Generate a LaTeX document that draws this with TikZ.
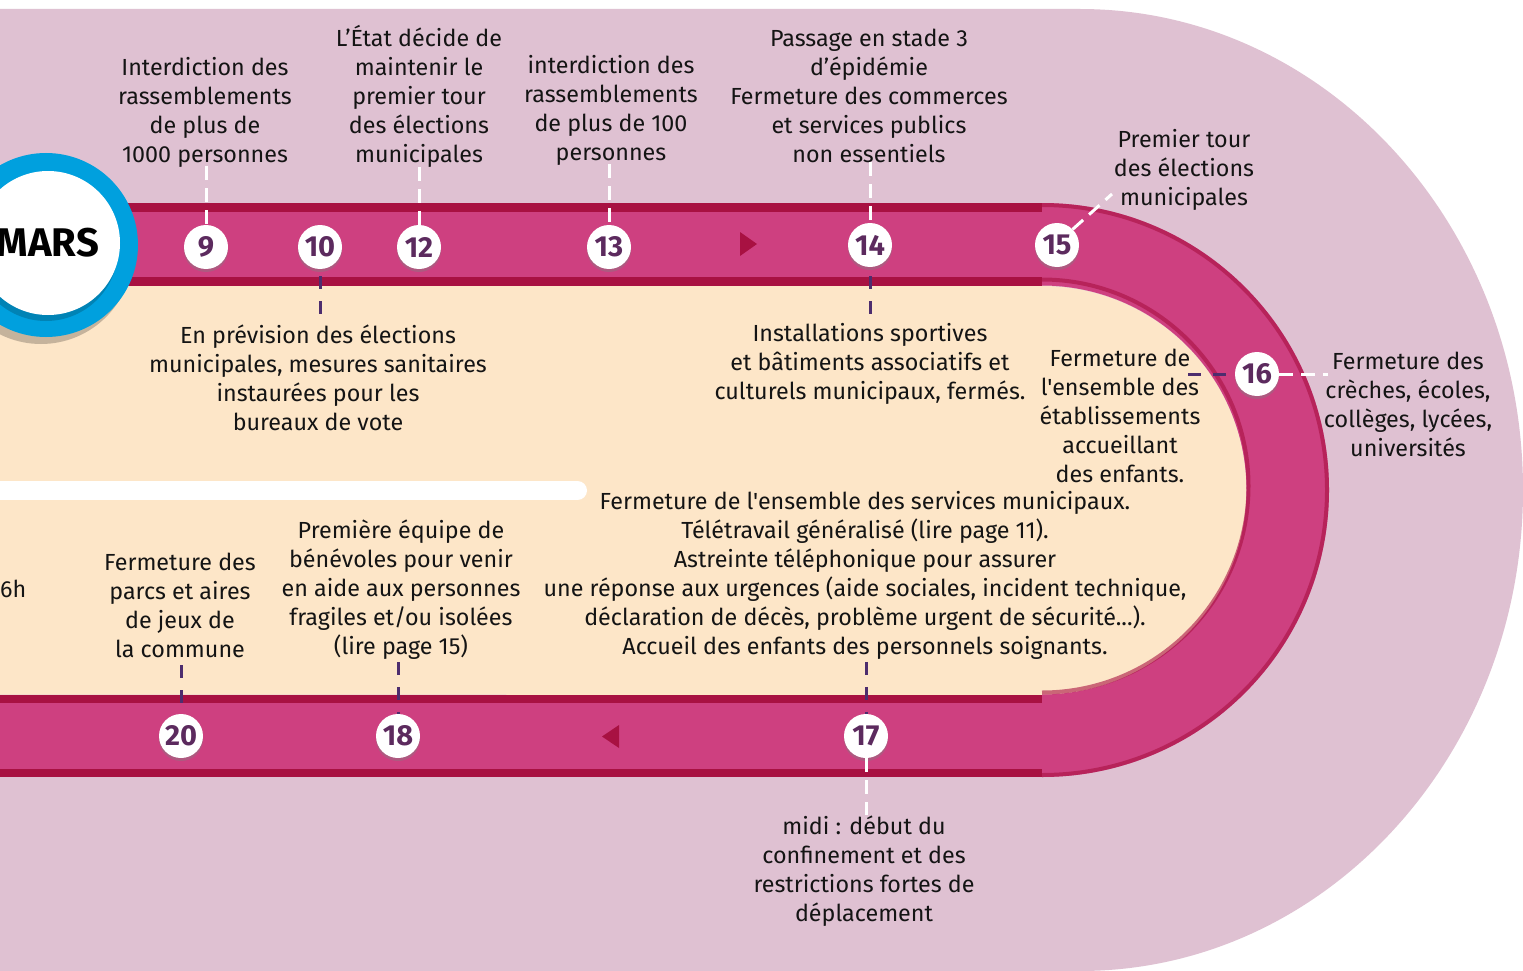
\documentclass[tikz,border=0pt]{standalone}
\usepackage{fontspec}
\setmainfont{Fira Sans}
\newfontfamily\ffira{Fira Sans}
\usetikzlibrary{shadows}
\definecolor{mauve}{HTML}{DFC1D2}
\definecolor{bandc}{HTML}{CE4080}
\definecolor{darkc}{HTML}{A81142}
\definecolor{creamc}{HTML}{FDE6C8}
\definecolor{numc}{HTML}{5C2A5E}
\definecolor{pdc}{HTML}{4D2D6E}
\definecolor{bluec}{HTML}{00A0DE}
\definecolor{txtc}{HTML}{141414}
\begin{document}
\begin{tikzpicture}[x=1pt,y=-1pt,
  txt/.style={align=center, inner sep=0pt, text=txtc, font=\ffira\fontsize{23.3}{29}\selectfont},
  num/.style={circle, fill=white, minimum size=44pt, inner sep=0pt, text=numc,
    font=\fontsize{29}{29}\selectfont\bfseries,
    drop shadow={opacity=0.4, shadow xshift=0pt, shadow yshift=-3pt}},
  wdash/.style={white, line width=3pt, dash pattern=on 14pt off 8pt},
  pdash/.style={pdc, line width=3pt, dash pattern=on 13pt off 12pt}]
\useasboundingbox (0,0) rectangle (1523,971);
\fill[white] (0,0) rectangle (1523,971);
% background
\fill[mauve] (0,9) -- (1080,9) arc[start angle=-90, end angle=90, x radius=443, y radius=481] -- (0,971) -- cycle;
% cream interior
\fill[creamc] (0,286) -- (1042,286) arc[start angle=-90, end angle=90, radius=204.5] -- (0,694.5) -- cycle;
% white bar
\draw[white, line width=19pt, line cap=round] (-20,490.5) -- (577.5,490.5);
% straight bands
\fill[darkc] (0,203) rectangle (1042,286);
\fill[bandc] (0,212) rectangle (1042,277);
\fill[darkc] (0,694.5) rectangle (1042,777);
\fill[bandc] (0,703) rectangle (1042,769);
% curved band
\fill[bandc] (1042,203) arc[start angle=-90, end angle=90, radius=287] -- (1042,694.5) arc[start angle=90, end angle=-90, radius=204.5] -- cycle;
\draw[darkc, line width=4pt, opacity=0.6] (1042,205) arc[start angle=-90, end angle=90, radius=285];
\draw[darkc, line width=4pt, opacity=0.6] (1042,692.5) arc[start angle=90, end angle=-90, radius=206.5];
% direction arrows
\fill[darkc] (740,232) -- (757,244) -- (740,256) -- cycle;
\fill[darkc] (619,725) -- (602,736.5) -- (619,748) -- cycle;
% MARS disc
\fill[black, opacity=0.22] (41,252) circle[radius=92];
\fill[bluec] (46,245) circle[radius=92];
\fill[black, opacity=0.18] (46,249) circle[radius=72];
\node[circle, fill=white, minimum size=144pt, inner sep=0pt, font=\fontsize{40}{40}\selectfont\bfseries, text=black] (mars) at (48,243) {MARS};
% numbers
\node[num] (n9) at (206,247) {9};
\node[num] (n10) at (320,247) {10};
\node[num] (n12) at (419,247) {12};
\node[num] (n13) at (609,247) {13};
\node[num] (n14) at (870,245) {14};
\node[num] (n15) at (1057,245) {15};
\node[num] (n16) at (1257,374) {16};
\node[num] (n17) at (866,736) {17};
\node[num] (n18) at (398,736) {18};
\node[num] (n20) at (181,736) {20};
% texts
\node[txt] (t9) at (205,112) {Interdiction des\\rassemblements\\de plus de\\1000 personnes};
\node[txt] (t12) at (419,96.5) {L’État décide de\\maintenir le\\premier tour\\des élections\\municipales};
\node[txt] (t13) at (611,110) {interdiction des\\rassemblements\\de plus de 100\\personnes};
\node[txt] (t14) at (869,96) {Passage en stade 3\\d’épidémie\\Fermeture des commerces\\et services publics\\non essentiels};
\node[txt] (t15) at (1184,170) {Premier tour\\des élections\\municipales};
\node[txt] (t16) at (1408,404) {Fermeture des\\crèches, écoles,\\collèges, lycées,\\universités};
\node[txt] (t10) at (318,378) {En prévision des élections\\municipales, mesures sanitaires\\instaurées pour les\\bureaux de vote};
\node[txt] (t14b) at (870,364) {Installations sportives\\et bâtiments associatifs et\\culturels municipaux, fermés.};
\node[txt] (t16b) at (1120,416) {Fermeture de\\l'ensemble des\\établissements\\accueillant\\des enfants.};
\node[txt] (t17) at (865,575.5) {Fermeture de l'ensemble des services municipaux.\\Télétravail généralisé (lire page 11).\\Astreinte téléphonique pour assurer\\une réponse aux urgences (aide sociales, incident technique,\\déclaration de décès, problème urgent de sécurité...).\\Accueil des enfants des personnels soignants.};
\node[txt] (t20) at (180,605.5) {Fermeture des\\parcs et aires\\de jeux de\\la commune};
\node[txt] (t18) at (401,590) {Première équipe de\\bénévoles pour venir\\en aide aux personnes\\fragiles et/ou isolées\\(lire page 15)};
\node[txt, anchor=west] (t6h) at (0,589) {6h};
\node[txt] (t17b) at (864,871) {midi : début du\\confinement et des\\restrictions fortes de\\déplacement};
% connector ends
\coordinate (c15) at (1112,194);
\coordinate (c16a) at (1188,374);
\coordinate (c16b) at (1328,374);
% connectors
\draw[wdash] (t9.south -| n9) ++(0,-1) -- (n9.north);
\draw[wdash] (t12.south -| n12) ++(0,-1) -- (n12.north);
\draw[wdash] (t13.south -| n13) ++(0,-1) -- (n13.north);
\draw[wdash] (t14.south -| n14) ++(0,-1) -- (n14.north);
\draw[wdash] (n15.45) -- (c15);
\draw[wdash] (n16.east) -- (c16b);
\draw[wdash] (n17.south) -- (t17b.north -| n17);
\draw[pdash] ([yshift=-7pt]n10.south) -- (t10.north -| n10);
\draw[pdash] ([yshift=-9pt]n14.south) -- (t14b.north -| n14);
\draw[pdash] (c16a) -- (n16.west);
\draw[pdash] ([yshift=-2pt]t17.south -| n17) -- (n17.north);
\draw[pdash] ([yshift=-2pt]t18.south -| n18) -- (n18.north);
\draw[pdash] ([yshift=-7pt]t20.south -| n20) -- (n20.north);
\end{tikzpicture}
\end{document}
